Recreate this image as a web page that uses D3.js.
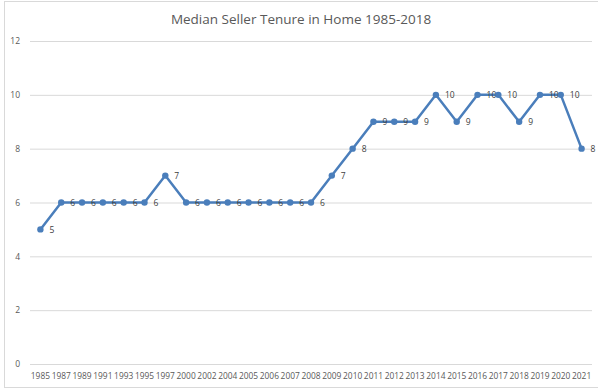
<!DOCTYPE html>
<html>
<head>
<meta charset="utf-8">
<script src="https://cdn.jsdelivr.net/npm/d3@7/dist/d3.min.js"></script>
<style>
  html, body { margin: 0; padding: 0; background: #fff; }
  svg { display: block; }
</style>
</head>
<body>
<script>
// Survey years and median tenure (years) of home sellers
const years = ["1985","1987","1989","1991","1993","1995","1997","2000","2002","2004","2005","2006","2007","2008","2009","2010","2011","2012","2013","2014","2015","2016","2017","2018","2019","2020","2021"];
const tenure = [5,6,6,6,6,6,7,6,6,6,6,6,6,6,7,8,9,9,9,10,9,10,10,9,10,10,8];
const yTicks = [0,2,4,6,8,10,12];
const chartTitle = "Median Seller Tenure in Home 1985-2018";

const W = 598, H = 392;
const margin = { left: 30, right: 6, top: 41, bottom: 28 };

const svg = d3.select("body").append("svg")
  .attr("width", W).attr("height", H);

// chart frame
svg.append("rect")
  .attr("x", 4.5).attr("y", 1.5)
  .attr("width", W - 4).attr("height", 386)
  .attr("fill", "#fff").attr("stroke", "#d9d9d9").attr("stroke-width", 1);

const x = d3.scaleBand()
  .domain(years)
  .range([margin.left, W - margin.right]);

const y = d3.scaleLinear()
  .domain([0, 12])
  .range([H - margin.bottom, margin.top]);

// title
svg.append("text")
  .attr("x", 301).attr("y", 24)
  .attr("text-anchor", "middle")
  .attr("font-family", "'Open Sans', sans-serif")
  .attr("font-size", 13.5)
  .attr("fill", "#595959")
  .text(chartTitle);

// horizontal gridlines + y labels
const yAxis = d3.axisLeft(y).tickValues(yTicks)
  .tickSize(-(W - margin.right - margin.left))
  .tickPadding(10);
const gy = svg.append("g")
  .attr("transform", `translate(${margin.left},0)`)
  .call(yAxis);
gy.select(".domain").remove();
gy.selectAll(".tick line").attr("stroke", "#d9d9d9").attr("stroke-width", 1);
gy.selectAll(".tick text")
  .attr("fill", "#595959")
  .attr("font-family", "'Open Sans', sans-serif")
  .attr("font-size", 8.5);

// x axis labels
const xAxis = d3.axisBottom(x).tickSize(0).tickPadding(9);
const gx = svg.append("g")
  .attr("transform", `translate(0,${H - margin.bottom})`)
  .call(xAxis);
gx.select(".domain").remove();
gx.selectAll(".tick text")
  .attr("fill", "#595959")
  .attr("font-family", "'Open Sans', sans-serif")
  .attr("font-size", 8.4);

const cx = d => x(d) + x.bandwidth() / 2;
const pts = years.map((yr, i) => ({ yr, v: tenure[i] }));

// series line
svg.append("path")
  .datum(pts)
  .attr("fill", "none")
  .attr("stroke", "#4a7ebb")
  .attr("stroke-width", 2.5)
  .attr("stroke-linejoin", "round")
  .attr("d", d3.line().x(d => cx(d.yr)).y(d => y(d.v)));

// data labels
svg.append("g").selectAll("text")
  .data(pts).join("text")
  .attr("x", d => cx(d.yr) + 9)
  .attr("y", d => y(d.v) + 3.5)
  .attr("font-family", "'Open Sans', sans-serif")
  .attr("font-size", 8.5)
  .attr("fill", "#404040")
  .text(d => d.v);

// markers
svg.append("g").selectAll("circle")
  .data(pts).join("circle")
  .attr("cx", d => cx(d.yr))
  .attr("cy", d => y(d.v))
  .attr("r", 3.2)
  .attr("fill", "#4a7ebb");
</script>
</body>
</html>
